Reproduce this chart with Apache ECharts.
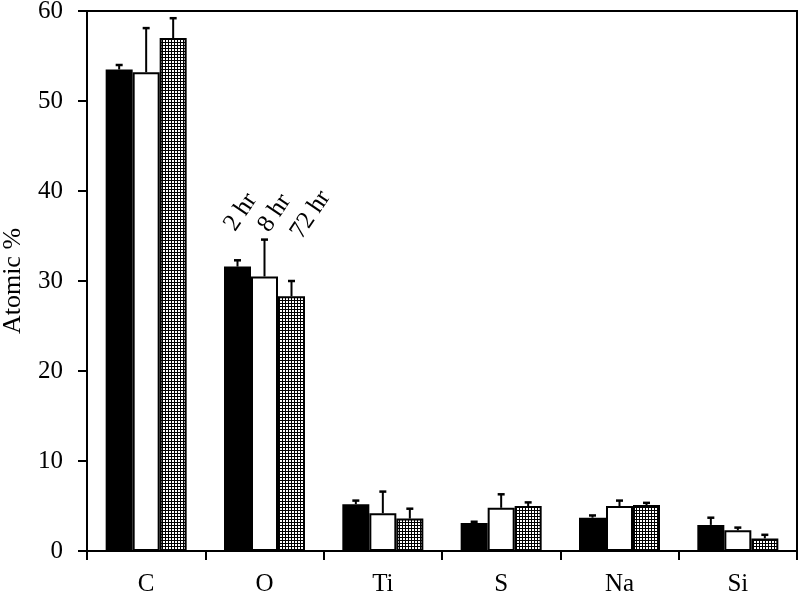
<!DOCTYPE html>
<html>
<head>
<meta charset="utf-8">
<script src="https://cdn.jsdelivr.net/npm/echarts@6/dist/echarts.min.js"></script>
<style>html,body{margin:0;padding:0;background:#fff;}#c{width:800px;height:595px;}</style>
</head>
<body>
<div id="c"></div>
<script>
var categories = ['C', 'O', 'Ti', 'S', 'Na', 'Si'];
var seriesNames = ['2 hr', '8 hr', '72 hr'];
var v2hr  = [53.5, 31.6, 5.2, 3.1, 3.7, 2.9];
var v8hr  = [53.2, 30.5, 4.2, 4.8, 5.0, 2.3];
var v72hr = [57.0, 28.3, 3.6, 5.0, 5.1, 1.4];
var e2hr  = [0.5, 0.7, 0.4, 0.15, 0.25, 0.8];
var e8hr  = [4.9, 4.1, 2.4, 1.5, 0.6, 0.3];
var e72hr = [2.2, 1.7, 1.1, 0.4, 0.25, 0.4];
var yTicks = { min: 0, max: 60, interval: 10 };

var FONT = 'Liberation Serif';
var BAR_W = 27;

// checkered fill pattern
var pc = document.createElement('canvas');
pc.width = 3; pc.height = 3;
var pctx = pc.getContext('2d');
pctx.fillStyle = '#fff'; pctx.fillRect(0, 0, 3, 3);
pctx.fillStyle = '#000'; pctx.fillRect(0, 0, 3, 1); pctx.fillRect(0, 0, 1, 3);

var values = [v2hr, v8hr, v72hr];
var errors = [e2hr, e8hr, e72hr];
var fills = ['#000', '#fff', { image: pc, repeat: 'repeat' }];
var labelPos = [[5.5, -38], [12.5, -47], [18, -60]];

var errData = [];
for (var s = 0; s < 3; s++) {
  for (var i = 0; i < categories.length; i++) {
    errData.push([i, s, values[s][i], errors[s][i]]);
  }
}

var series = [];
for (var s = 0; s < 3; s++) {
  var data = values[s].map(function (v, i) {
    var item = { value: v };
    if (categories[i] === 'O') {
      item.label = {
        show: true, formatter: seriesNames[s], position: labelPos[s],
        rotate: 56, align: 'left', verticalAlign: 'middle',
        fontFamily: FONT, fontSize: 25, color: '#000'
      };
    }
    return item;
  });
  series.push({
    name: seriesNames[s], type: 'bar', data: data,
    barWidth: BAR_W, barGap: '0%',
    itemStyle: { color: fills[s], borderColor: '#000', borderWidth: 2 },
    label: { show: false },
    emphasis: { disabled: true },
    z: 2
  });
}

series.push({
  type: 'custom', data: errData, z: 3,
  encode: { x: 0, y: 2 },
  renderItem: function (params, api) {
    var cat = api.value(0), s = api.value(1), v = api.value(2), e = api.value(3);
    var p0 = api.coord([cat, v]);
    var p1 = api.coord([cat, v + e]);
    var x = p0[0] + (s - 1) * BAR_W;
    var style = { stroke: '#000', lineWidth: 2 };
    return {
      type: 'group',
      children: [
        { type: 'line', shape: { x1: x, y1: p0[1], x2: x, y2: p1[1] }, style: style },
        { type: 'line', shape: { x1: x - 3.5, y1: p1[1], x2: x + 3.5, y2: p1[1] }, style: { stroke: '#000', lineWidth: 2.5 } }
      ]
    };
  }
});

var chart = echarts.init(document.getElementById('c'), null, { renderer: 'canvas' });
chart.setOption({
  animation: false,
  backgroundColor: '#fff',
  grid: { left: 87, right: 3, top: 11, bottom: 44, containLabel: false, outerBoundsMode: 'none', show: true, borderColor: '#000', borderWidth: 2, backgroundColor: 'transparent' },
  xAxis: {
    type: 'category', data: categories, boundaryGap: true,
    axisLine: { lineStyle: { color: '#000', width: 2 } },
    axisTick: { show: true, length: 9, lineStyle: { color: '#000', width: 2 } },
    axisLabel: { fontFamily: FONT, fontSize: 25, color: '#000', margin: 21 },
    splitLine: { show: false }
  },
  yAxis: {
    type: 'value', min: yTicks.min, max: yTicks.max, interval: yTicks.interval,
    name: 'Atomic %', nameLocation: 'middle', nameGap: 61,
    nameTextStyle: { fontFamily: FONT, fontSize: 26, color: '#000' },
    axisLine: { show: true, lineStyle: { color: '#000', width: 2 } },
    axisTick: { show: true, length: 9, lineStyle: { color: '#000', width: 2 } },
    axisLabel: { fontFamily: FONT, fontSize: 25, color: '#000', margin: 24 },
    splitLine: { show: false }
  },
  series: series
});
</script>
</body>
</html>
